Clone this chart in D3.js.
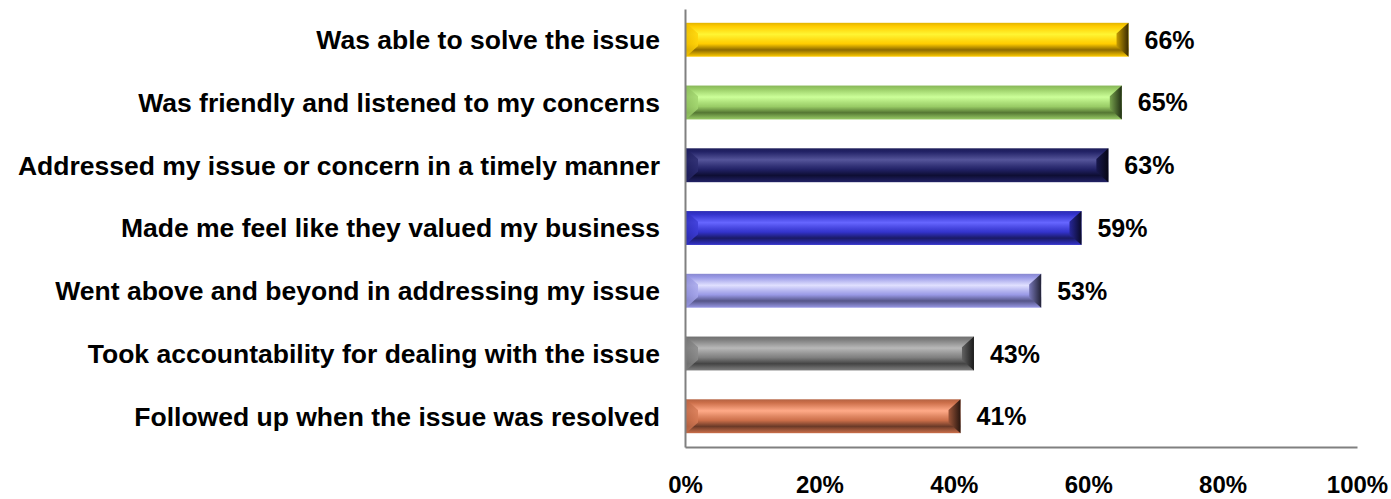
<!DOCTYPE html>
<html>
<head>
<meta charset="utf-8">
<script src="https://cdn.jsdelivr.net/npm/d3@7"></script>
<style>
  html, body { margin: 0; padding: 0; background: #fff; }
  svg { display: block; font-family: "Liberation Sans", Arial, sans-serif; }
</style>
</head>
<body>
<svg id="chart" width="1391" height="499"></svg>
<script>
// Share of customers agreeing with each statement about the service agent
const categories = [
  "Was able to solve the issue",
  "Was friendly and listened to my concerns",
  "Addressed my issue or concern in a timely manner",
  "Made me feel like they valued my business",
  "Went above and beyond in addressing my issue",
  "Took accountability for dealing with the issue",
  "Followed up when the issue was resolved"
];
const values = [0.66, 0.65, 0.63, 0.59, 0.53, 0.43, 0.41];
const tickValues = [0, 0.2, 0.4, 0.6, 0.8, 1.0];

// Bar palette: base, highlight, shadow
const baseColors  = ["#FFCC00", "#99CC66", "#222266", "#3333CC", "#9999E6", "#7F7F7F", "#CC6F4A"];
const lightColors = ["#FFF533", "#CCFF99", "#55559A", "#6666FF", "#E0E0FF", "#B8B8B8", "#FFAA88"];
const darkColors  = ["#8C6A00", "#557733", "#0E0E33", "#1A1A66", "#555588", "#444444", "#6A3A28"];

const svg = d3.select("#chart");
const defs = svg.append("defs");

const x = d3.scaleLinear().domain([0, 1]).range([685, 1357]);
const y = d3.scaleBand().domain(categories).range([9, 447])
  .paddingInner(0.46).paddingOuter(0.22);

const mix = (a, b, t) => d3.interpolateRgb(a, b)(t);

// Gradients for each bar: vertical face, left and right bevels
categories.forEach((c, i) => {
  const b = baseColors[i], l = lightColors[i], d = darkColors[i];
  const g = defs.append("linearGradient").attr("id", "face" + i)
    .attr("x1", 0).attr("y1", 0).attr("x2", 0).attr("y2", 1);
  [[0, mix(b, d, 0.25)], [0.1, b], [0.34, l], [0.5, mix(b, l, 0.4)], [0.62, b],
   [0.8, d], [0.9, mix(b, d, 0.5)], [1, b]]
    .forEach(([o, col]) => g.append("stop").attr("offset", o).attr("stop-color", col));

  const gl = defs.append("linearGradient").attr("id", "left" + i)
    .attr("x1", 0).attr("y1", 0).attr("x2", 1).attr("y2", 0);
  gl.append("stop").attr("offset", 0).attr("stop-color", mix(b, d, 0.15));
  gl.append("stop").attr("offset", 1).attr("stop-color", mix(b, l, 0.2));

  const gr = defs.append("linearGradient").attr("id", "right" + i)
    .attr("x1", 0).attr("y1", 0).attr("x2", 1).attr("y2", 0);
  gr.append("stop").attr("offset", 0).attr("stop-color", mix(b, d, 0.5));
  gr.append("stop").attr("offset", 1).attr("stop-color", mix(d, "#000", 0.6));
});

const bars = svg.append("g").attr("class", "bars")
  .selectAll("g").data(categories).join("g");

const bevel = 12;
bars.each(function (c, i) {
  const g = d3.select(this);
  const x0 = x(0) + 1, x1 = x(values[i]);
  const y0 = y(c), y1 = y(c) + y.bandwidth();
  const ym0 = y0 + bevel * 0.9, ym1 = y1 - bevel * 0.9;

  g.append("rect")
    .attr("x", x0).attr("y", y0)
    .attr("width", x1 - x0).attr("height", y1 - y0)
    .attr("fill", `url(#face${i})`);

  g.append("path")
    .attr("d", `M${x0},${y0}L${x0 + bevel},${ym0}L${x0 + bevel},${ym1}L${x0},${y1}Z`)
    .attr("fill", `url(#left${i})`).attr("opacity", 0.85);

  g.append("path")
    .attr("d", `M${x1},${y0}L${x1 - bevel},${ym0}L${x1 - bevel},${ym1}L${x1},${y1}Z`)
    .attr("fill", `url(#right${i})`);
});

// Value labels
svg.append("g").selectAll("text").data(categories).join("text")
  .attr("x", (c, i) => x(values[i]) + 16)
  .attr("y", c => y(c) + y.bandwidth() / 2)
  .attr("dy", "0.36em")
  .attr("font-size", 25).attr("font-weight", "bold").attr("fill", "#000")
  .text((c, i) => Math.round(values[i] * 100) + "%");

// Category axis
const yAxis = svg.append("g").attr("transform", `translate(${x(0)},0)`)
  .call(d3.axisLeft(y).tickSize(0).tickSizeOuter(0).tickPadding(25));
yAxis.select(".domain").attr("stroke", "#808080").attr("stroke-width", 2);
yAxis.selectAll("text")
  .attr("font-family", "'Liberation Sans', Arial, sans-serif")
  .attr("font-size", 26.5).attr("font-weight", "bold").attr("fill", "#000")
  .attr("dy", "0.35em");

// Value axis
const xAxis = svg.append("g").attr("transform", `translate(0,${y.range()[1]})`)
  .call(d3.axisBottom(x).tickValues(tickValues).tickSize(0).tickSizeOuter(0)
    .tickPadding(29).tickFormat(d3.format(".0%")));
xAxis.select(".domain").attr("stroke", "#808080").attr("stroke-width", 2);
xAxis.selectAll("text")
  .attr("font-family", "'Liberation Sans', Arial, sans-serif")
  .attr("font-size", 24).attr("font-weight", "bold").attr("fill", "#000");
</script>
</body>
</html>
